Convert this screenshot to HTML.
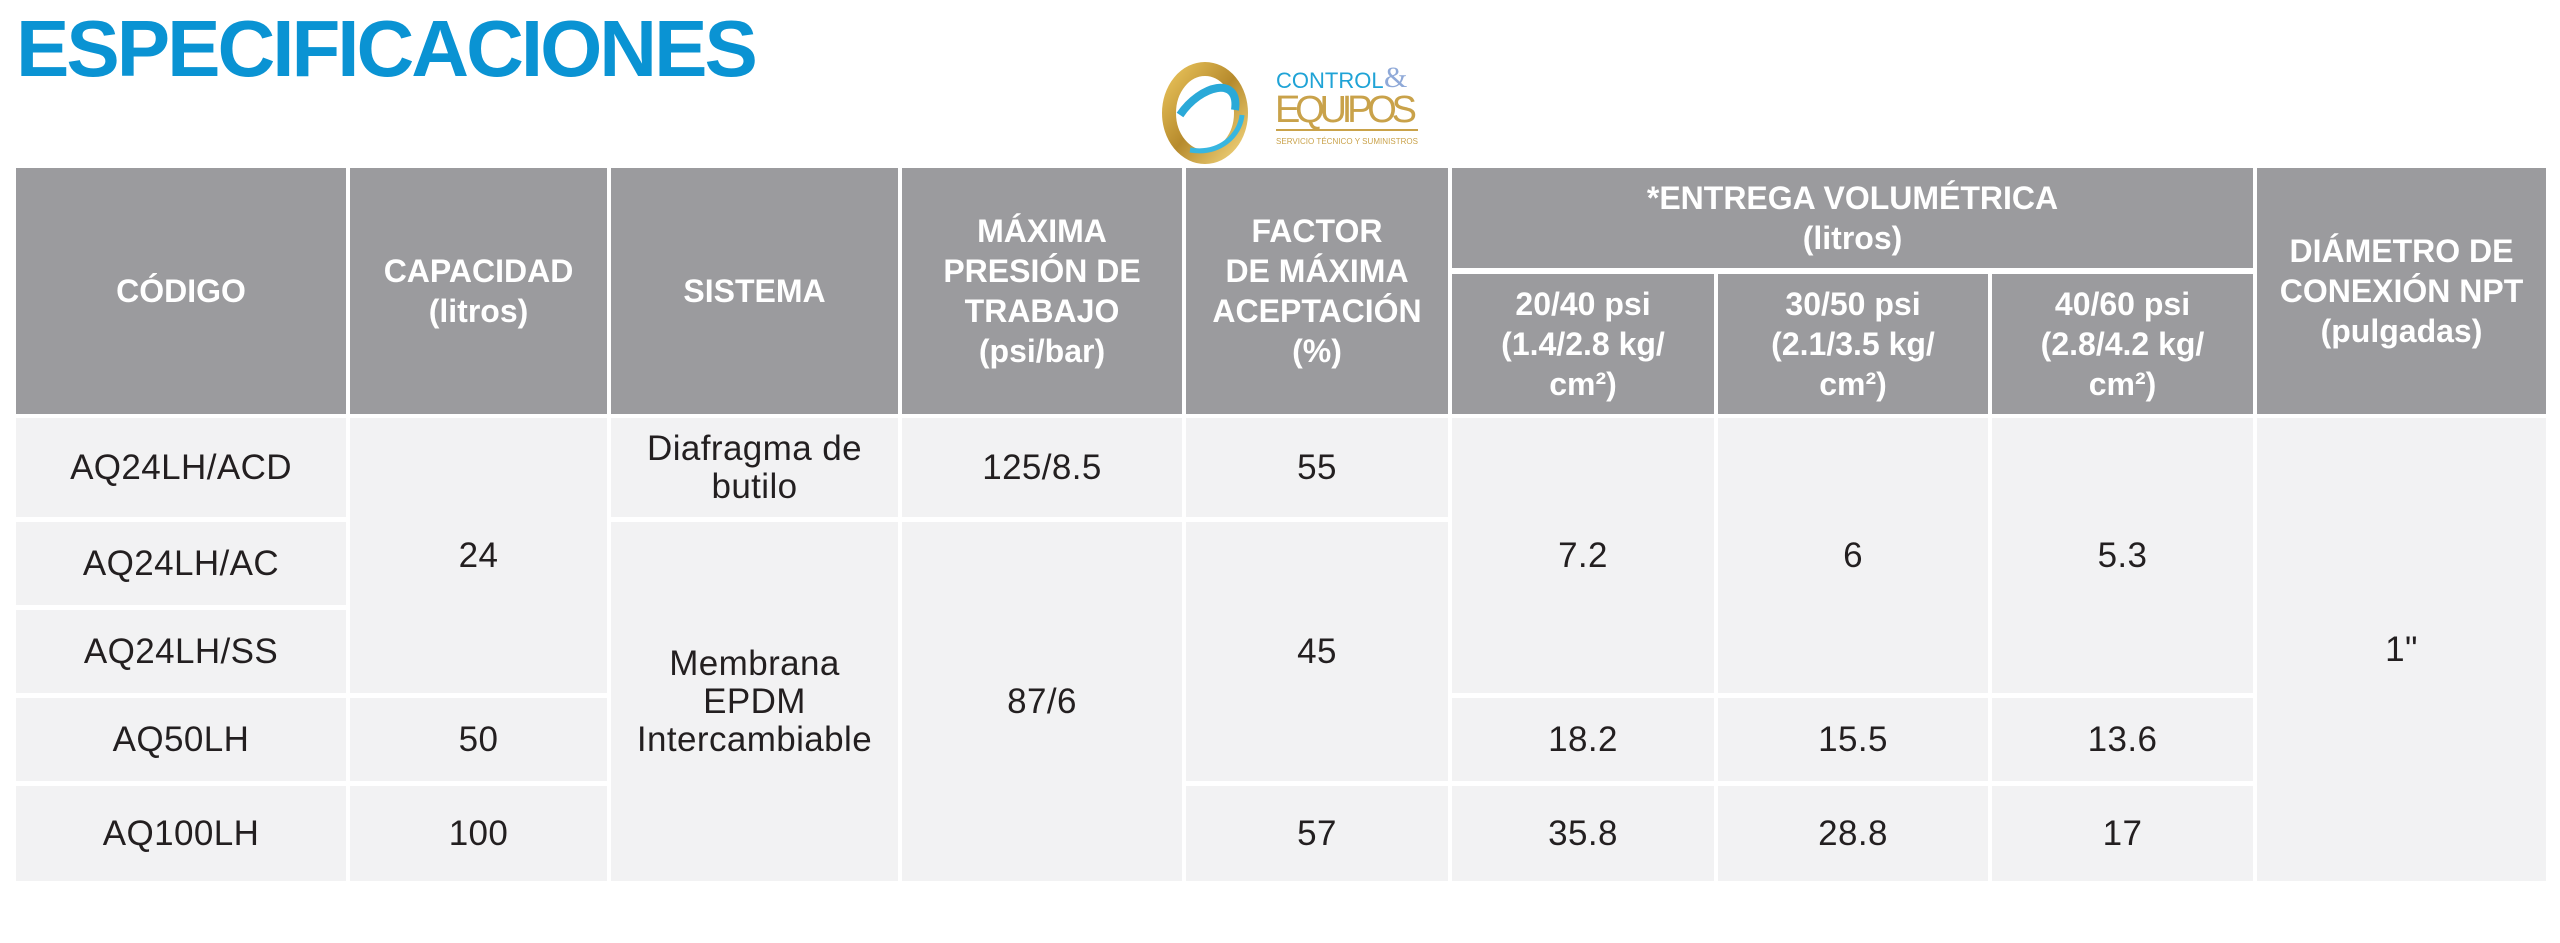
<!DOCTYPE html>
<html><head><meta charset="utf-8"><style>
html,body{margin:0;padding:0;background:#fff;width:2560px;height:943px;overflow:hidden;font-family:"Liberation Sans",Arial,sans-serif}
.c{position:absolute;display:flex;align-items:center;justify-content:center;text-align:center;box-sizing:border-box}
.h{background:#9b9b9e;color:#fff;font-weight:bold;font-size:32px;line-height:40px}
.b{background:#f2f2f3;color:#231f20;font-size:35px;line-height:38px;letter-spacing:0.4px}
#t{position:absolute;left:16px;top:4px;font-size:80px;font-weight:bold;color:#0a93d3;letter-spacing:-3px;line-height:90px}
</style></head><body>
<div id="t">ESPECIFICACIONES</div>
<svg style="position:absolute;left:1160px;top:55px" width="280" height="110" viewBox="0 0 280 110">
<defs><linearGradient id="g" x1="0" y1="0" x2="1" y2="1"><stop offset="0" stop-color="#e8c25a"/><stop offset="0.5" stop-color="#b68a2c"/><stop offset="1" stop-color="#f0d27a"/></linearGradient></defs>
<ellipse cx="45" cy="58" rx="36" ry="44" fill="none" stroke="url(#g)" stroke-width="14"/>
<path d="M20 60 C40 30,80 20,75 55" fill="none" stroke="#2aa9d8" stroke-width="8"/>
<path d="M30 95 C60 100,80 80,82 60" fill="none" stroke="#38b6e0" stroke-width="5"/>
<text x="116" y="33" font-family="Liberation Sans Narrow,Liberation Sans,sans-serif" font-size="22" fill="#1fa3d6">CONTROL</text>
<text x="224" y="32" font-family="Liberation Serif,serif" font-size="30" fill="#8fa9d8">&amp;</text>
<text x="115" y="67" font-family="Liberation Sans Narrow,Liberation Sans,sans-serif" font-size="38" fill="#c9a24a" textLength="142">EQUIPOS</text>
<rect x="116" y="74" width="142" height="2" fill="#c9a24a"/>
<text x="116" y="89" font-family="Liberation Sans,sans-serif" font-size="8" fill="#c9a24a" textLength="142">SERVICIO TÉCNICO Y SUMINISTROS</text>
</svg>

<div class="c h" style="left:16px;top:168px;width:330px;height:246px">CÓDIGO</div>
<div class="c h" style="left:350px;top:168px;width:257px;height:246px">CAPACIDAD<br>(litros)</div>
<div class="c h" style="left:611px;top:168px;width:287px;height:246px">SISTEMA</div>
<div class="c h" style="left:902px;top:168px;width:280px;height:246px">MÁXIMA<br>PRESIÓN DE<br>TRABAJO<br>(psi/bar)</div>
<div class="c h" style="left:1186px;top:168px;width:262px;height:246px">FACTOR<br>DE MÁXIMA<br>ACEPTACIÓN<br>(%)</div>
<div class="c h" style="left:1452px;top:168px;width:801px;height:100px">*ENTREGA VOLUMÉTRICA<br>(litros)</div>
<div class="c h" style="left:1452px;top:274px;width:262px;height:140px">20/40 psi<br>(1.4/2.8 kg/<br>cm²)</div>
<div class="c h" style="left:1718px;top:274px;width:270px;height:140px">30/50 psi<br>(2.1/3.5 kg/<br>cm²)</div>
<div class="c h" style="left:1992px;top:274px;width:261px;height:140px">40/60 psi<br>(2.8/4.2 kg/<br>cm²)</div>
<div class="c h" style="left:2257px;top:168px;width:289px;height:246px">DIÁMETRO DE<br>CONEXIÓN NPT<br>(pulgadas)</div>

<div class="c b" style="left:16px;top:418px;width:330px;height:99px">AQ24LH/ACD</div>
<div class="c b" style="left:16px;top:522px;width:330px;height:83px">AQ24LH/AC</div>
<div class="c b" style="left:16px;top:610px;width:330px;height:83px">AQ24LH/SS</div>
<div class="c b" style="left:16px;top:698px;width:330px;height:83px">AQ50LH</div>
<div class="c b" style="left:16px;top:786px;width:330px;height:95px">AQ100LH</div>
<div class="c b" style="left:350px;top:418px;width:257px;height:275px">24</div>
<div class="c b" style="left:350px;top:698px;width:257px;height:83px">50</div>
<div class="c b" style="left:350px;top:786px;width:257px;height:95px">100</div>
<div class="c b" style="left:611px;top:418px;width:287px;height:99px">Diafragma de<br>butilo</div>
<div class="c b" style="left:611px;top:522px;width:287px;height:359px">Membrana<br>EPDM<br>Intercambiable</div>
<div class="c b" style="left:902px;top:418px;width:280px;height:99px">125/8.5</div>
<div class="c b" style="left:902px;top:522px;width:280px;height:359px">87/6</div>
<div class="c b" style="left:1186px;top:418px;width:262px;height:99px">55</div>
<div class="c b" style="left:1186px;top:522px;width:262px;height:259px">45</div>
<div class="c b" style="left:1186px;top:786px;width:262px;height:95px">57</div>
<div class="c b" style="left:1452px;top:418px;width:262px;height:275px">7.2</div>
<div class="c b" style="left:1718px;top:418px;width:270px;height:275px">6</div>
<div class="c b" style="left:1992px;top:418px;width:261px;height:275px">5.3</div>
<div class="c b" style="left:1452px;top:698px;width:262px;height:83px">18.2</div>
<div class="c b" style="left:1718px;top:698px;width:270px;height:83px">15.5</div>
<div class="c b" style="left:1992px;top:698px;width:261px;height:83px">13.6</div>
<div class="c b" style="left:1452px;top:786px;width:262px;height:95px">35.8</div>
<div class="c b" style="left:1718px;top:786px;width:270px;height:95px">28.8</div>
<div class="c b" style="left:1992px;top:786px;width:261px;height:95px">17</div>
<div class="c b" style="left:2257px;top:418px;width:289px;height:463px">1"</div>
</body></html>
